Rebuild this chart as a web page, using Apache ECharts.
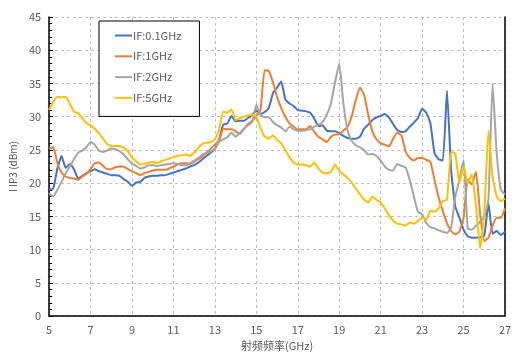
<!DOCTYPE html>
<html>
<head>
<meta charset="utf-8">
<script src="https://cdn.jsdelivr.net/npm/echarts@6/dist/echarts.min.js"></script>
<style>
  html, body { margin: 0; padding: 0; background: #fff; }
  #chart { width: 517px; height: 356px; }
</style>
</head>
<body>
<div id="chart"></div>
<script>
// RF sweep frequencies (GHz)
const freqGHz = [
  5.0, 5.2, 5.4, 5.6, 5.8, 6.0, 6.2, 6.4, 6.6, 6.8,
  7.0, 7.2, 7.4, 7.6, 7.8, 8.0, 8.2, 8.4, 8.6, 8.8,
  9.0, 9.2, 9.4, 9.6, 9.8, 10.0, 10.2, 10.4, 10.6, 10.8,
  11.0, 11.2, 11.4, 11.6, 11.8, 12.0, 12.2, 12.4, 12.6, 12.8,
  13.0, 13.2, 13.4, 13.6, 13.8, 14.0, 14.2, 14.4, 14.6, 14.8,
  15.0, 15.2, 15.4, 15.6, 15.8, 16.0, 16.2, 16.4, 16.6, 16.8,
  17.0, 17.2, 17.4, 17.6, 17.8, 18.0, 18.2, 18.4, 18.6, 18.8,
  19.0, 19.2, 19.4, 19.6, 19.8, 20.0, 20.2, 20.4, 20.6, 20.8,
  21.0, 21.2, 21.4, 21.6, 21.8, 22.0, 22.2, 22.4, 22.6, 22.8,
  23.0, 23.2, 23.4, 23.6, 23.8, 24.0, 24.2, 24.4, 24.6, 24.8,
  25.0, 25.2, 25.4, 25.6, 25.8, 26.0, 26.2, 26.4, 26.6, 26.8,
  27.0
];

// Input IP3 (dBm) for each IF
const iip3If01 = [
  19.0, 19.2, 22.2, 24.1, 22.3, 22.9, 22.1, 20.7, 21.1, 21.5,
  21.8, 22.1, 21.8, 21.6, 21.4, 21.2, 21.2, 21.1, 20.6, 20.2,
  19.6, 20.1, 20.2, 20.8, 21.0, 21.1, 21.1, 21.2, 21.2, 21.4,
  21.6, 21.8, 22.0, 22.2, 22.5, 22.7, 23.1, 23.6, 24.1, 24.6,
  25.2, 26.5, 28.8, 29.0, 30.1, 29.3, 29.4, 29.4, 29.8, 30.3,
  30.9, 30.4, 30.7, 31.3, 33.5, 34.4, 35.3, 32.6, 32.0, 31.6,
  31.0, 30.9, 30.8, 30.6, 29.7, 28.6, 28.7, 27.9, 27.8, 27.8,
  27.5, 27.1, 26.8, 26.7, 26.7, 27.0, 28.2, 28.8, 29.5, 29.9,
  30.1, 30.4, 29.9, 28.9, 28.0, 27.7, 27.8, 28.5, 29.1, 29.8,
  31.2, 30.6, 29.0, 24.5, 23.6, 23.4, 33.9, 22.0, 16.5, 14.8,
  13.0, 12.0, 11.8, 11.8, 11.9, 12.1, 17.0, 12.4, 12.8, 12.2,
  12.7
];
const iip3If1 = [
  25.2, 25.4, 23.0, 21.6, 21.0, 20.8, 20.7, 20.5, 21.0, 21.4,
  22.1, 23.0, 23.1, 22.6, 22.1, 22.1, 22.4, 22.5, 22.5, 22.1,
  21.8, 21.5, 21.2, 21.5, 21.7, 21.9, 22.0, 22.0, 22.0, 22.2,
  22.5, 22.8, 23.0, 23.0, 22.9, 23.2, 23.6, 24.0, 24.6, 25.2,
  25.8, 26.4, 28.2, 28.1, 28.1, 27.8, 27.4, 28.1, 28.9, 29.4,
  30.1, 31.0, 37.0, 36.9, 35.2, 33.0, 31.3, 30.0, 29.0, 28.5,
  28.1, 28.1, 28.1, 28.6, 27.7, 27.0, 26.6, 26.2, 27.0, 27.3,
  27.4, 27.9, 28.5, 30.0, 32.5, 34.4, 33.3, 30.3, 27.8, 26.6,
  26.0, 25.8, 25.5, 26.7, 27.6, 27.2, 24.8, 23.8, 23.4, 23.8,
  23.8, 23.5, 23.2, 20.5, 17.8, 15.8, 14.0, 12.8, 12.3, 12.7,
  14.8, 20.6, 19.8, 21.7, 15.3, 11.3, 11.8, 13.6, 14.8, 14.8,
  16.2
];
const iip3If2 = [
  18.5, 18.0, 19.0, 20.2, 21.5, 22.5, 23.6, 24.6, 24.9, 25.4,
  26.2, 25.8, 24.9, 24.7, 24.9, 25.2, 25.1, 24.8, 24.3, 23.6,
  22.9, 22.6, 22.2, 22.4, 22.7, 22.7, 22.6, 22.7, 22.8, 22.9,
  23.0, 22.9, 22.7, 22.7, 23.0, 23.4, 23.8, 24.3, 24.5, 24.8,
  25.1, 26.2, 26.6, 26.9, 27.6, 27.0, 27.5, 28.2, 28.7, 29.2,
  31.8, 30.3, 29.9, 29.9, 29.2, 28.7, 28.4, 27.8, 28.5, 28.1,
  27.9, 27.9, 28.0, 28.1, 28.5, 28.8, 29.2, 30.3, 32.0, 35.2,
  38.0, 32.0, 28.0, 26.4, 25.7, 25.4, 25.0, 24.3, 24.4, 24.1,
  23.4, 22.5, 22.0, 21.9, 22.9, 22.6, 22.4, 20.5, 18.0, 15.7,
  15.3, 14.0, 13.4, 13.2, 12.9, 12.7, 12.5, 13.3, 18.0, 20.5,
  23.5, 13.2, 13.0, 13.6, 14.2, 15.0, 17.5, 35.0, 24.5, 19.0,
  18.3
];
const iip3If5 = [
  31.0, 32.2, 33.0, 32.9, 33.0, 31.9, 30.8, 30.5, 29.8, 29.0,
  28.7, 28.2, 27.5, 26.7, 25.9, 25.6, 25.6, 25.6, 25.3, 24.8,
  23.8, 23.3, 22.8, 22.9, 23.1, 23.2, 23.0, 23.3, 23.5, 23.7,
  23.9, 24.1, 24.2, 24.3, 24.1, 24.6, 25.3, 25.9, 26.1, 26.2,
  26.6, 28.0, 30.8, 30.6, 31.1, 29.5, 29.8, 30.0, 30.2, 30.3,
  30.0, 28.3, 27.0, 26.7, 27.2, 26.5, 26.0, 25.0, 23.9, 23.1,
  22.8, 22.8, 22.7, 22.5, 23.1, 22.2, 21.6, 21.5, 21.7, 22.8,
  21.9, 21.3, 20.8, 20.1, 19.2, 18.3, 17.5, 17.1, 18.0, 17.5,
  17.1, 16.2, 15.2, 14.4, 13.9, 13.8, 13.6, 14.1, 13.9, 14.3,
  14.8, 14.5, 15.9, 15.7, 16.2, 17.3, 17.5, 24.7, 24.5, 20.0,
  22.5, 20.0, 21.3, 16.5, 10.2, 15.5, 27.9, 21.0, 18.0, 17.3,
  17.7
];

const seriesNames = ['IF:0.1GHz', 'IF:1GHz', 'IF:2GHz', 'IF:5GHz'];
const seriesValues = [iip3If01, iip3If1, iip3If2, iip3If5];
const seriesColors = ['#4472C4', '#ED7D31', '#A5A5A5', '#FFC000'];

const labelFont = "'Noto Sans CJK SC', 'Noto Sans', sans-serif";
const textGray = '#595959';

const chart = echarts.init(document.getElementById('chart'));
chart.setOption({
  animation: false,
  backgroundColor: '#fff',
  grid: { left: 43, right: 12, top: 17, bottom: 37 },
  legend: {
    orient: 'vertical',
    left: 99,
    top: 21,
    data: seriesNames,
    backgroundColor: '#fff',
    borderColor: '#000',
    borderWidth: 1,
    padding: [9, 18, 13, 16],
    itemGap: 9.8,
    itemWidth: 17,
    itemHeight: 14,
    icon: 'path://M0,6 L17,6 L17,8 L0,8 Z',
    textStyle: { color: textGray, fontSize: 11, fontFamily: labelFont, padding: [0, 0, 0, -4] }
  },
  xAxis: {
    type: 'value',
    min: 5,
    max: 27,
    interval: 2,
    name: '射频频率(GHz)',
    nameLocation: 'middle',
    nameGap: 22,
    nameTextStyle: { color: textGray, fontSize: 11, fontFamily: labelFont },
    axisLine: { show: true, lineStyle: { color: '#000', width: 1.5 } },
    axisTick: { show: false },
    axisLabel: { color: textGray, fontSize: 11, fontFamily: labelFont, margin: 8 },
    splitLine: { show: true, lineStyle: { color: '#BFBFBF', type: [3, 3], width: 1 } }
  },
  yAxis: [
    {
      type: 'value',
      min: 0,
      max: 45,
      interval: 5,
      name: 'I IP3 (dBm)',
      nameLocation: 'middle',
      nameGap: 24,
      nameTextStyle: { color: textGray, fontSize: 10, fontFamily: labelFont },
      axisLine: { show: true, lineStyle: { color: '#000', width: 1.5 } },
      axisTick: { show: true, inside: true, length: 4, lineStyle: { color: '#000' } },
      minorTick: { show: true, splitNumber: 5, length: 3, lineStyle: { color: '#000' } },
      axisLabel: { color: textGray, fontSize: 11, fontFamily: labelFont, margin: 8 },
      splitLine: { show: true, lineStyle: { color: '#BFBFBF', type: [3, 3], width: 1 } }
    },
    {
      type: 'value',
      min: 0,
      max: 45,
      interval: 5,
      position: 'right',
      axisLine: { show: true, lineStyle: { color: '#000', width: 1.5 } },
      axisTick: { show: false },
      axisLabel: { show: false },
      splitLine: { show: false }
    }
  ],
  series: seriesNames.map((name, k) => ({
    name: name,
    type: 'line',
    yAxisIndex: 0,
    data: freqGHz.map((f, i) => [f, seriesValues[k][i]]),
    showSymbol: false,
    symbol: 'none',
    smooth: 0.15,
    lineStyle: { color: seriesColors[k], width: 2 },
    itemStyle: { color: seriesColors[k] },
    z: 2 + k
  }))
});
</script>
</body>
</html>
